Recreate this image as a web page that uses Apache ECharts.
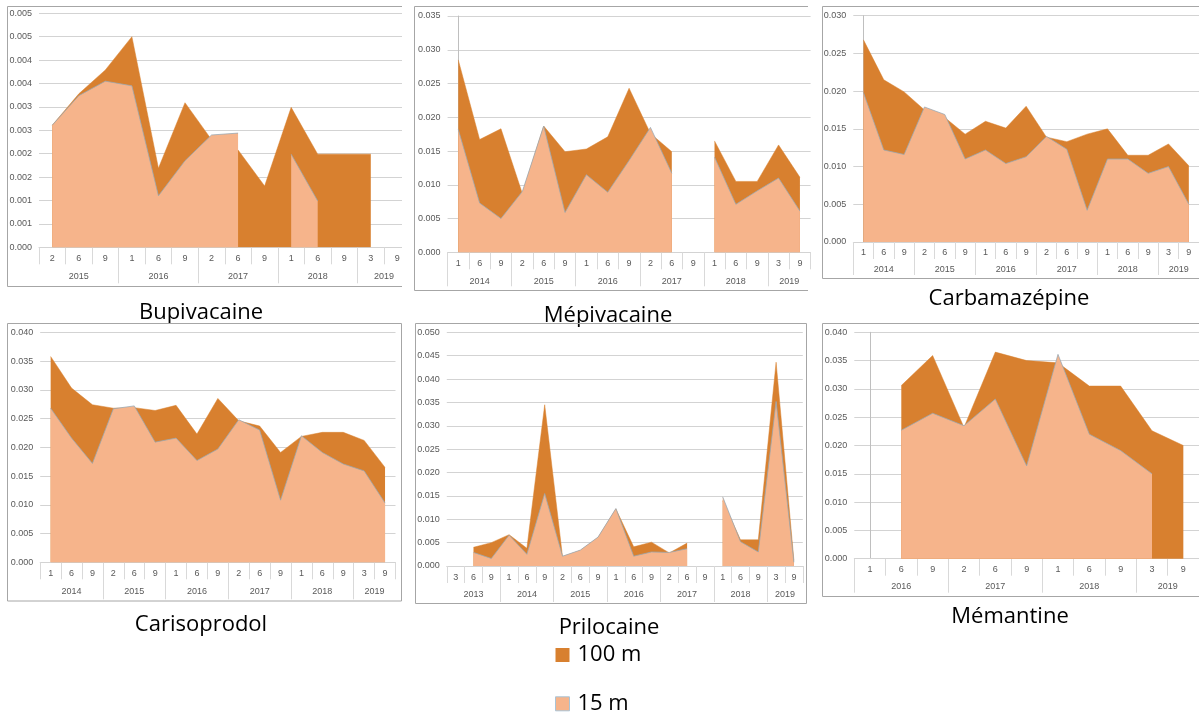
<!DOCTYPE html>
<html>
<head>
<meta charset="utf-8">
<script src="https://cdn.jsdelivr.net/npm/echarts@6/dist/echarts.min.js"></script>
<style>
html,body{margin:0;padding:0;background:#fff;}
#chart{width:1199px;height:715px;}
</style>
</head>
<body>
<div id="chart"></div>
<script>
// ---------- DATA ----------
const seriesNames = ['100 m', '15 m'];
const titles = ['Bupivacaine', 'Mépivacaine', 'Carbamazépine', 'Carisoprodol', 'Prilocaine', 'Mémantine'];

const bupivacaineMonths = ['2','6','9','1','6','9','2','6','9','1','6','9','3','9'];
const bupivacaineYears = ['2015','2016','2017','2018','2019'];
const bupivacaineYearSizes = [3,3,3,3,2];
const bupivacaine100 = [0.00261,0.00328,0.00379,0.00450,0.00169,0.00309,0.00230,0.00208,0.00131,0.00299,0.00199,0.00199,0.00199,null];
const bupivacaine15 = [0.00261,0.00324,0.00355,0.00345,0.00110,0.00185,0.00240,0.00244,null,0.00199,0.00099,null,null,null];

const mepivacaineMonths = ['1','6','9','2','6','9','1','6','9','2','6','9','1','6','9','3','9'];
const mepivacaineYears = ['2014','2015','2016','2017','2018','2019'];
const mepivacaineYearSizes = [3,3,3,3,3,2];
const mepivacaine100 = [0.0285,0.0167,0.0183,0.0087,0.0187,0.0149,0.0153,0.0171,0.0243,0.0176,0.0149,null,0.0165,0.0105,0.0105,0.0159,0.0111];
const mepivacaine15 = [0.0182,0.0073,0.0050,0.0090,0.0187,0.0059,0.0115,0.0089,0.0136,0.0185,0.0117,null,0.0141,0.0071,0.0091,0.0110,0.0061];

const carbamazepineMonths = ['1','6','9','2','6','9','1','6','9','2','6','9','1','6','9','3','9'];
const carbamazepineYears = ['2014','2015','2016','2017','2018','2019'];
const carbamazepineYearSizes = [3,3,3,3,3,2];
const carbamazepine100 = [0.0268,0.0215,0.0199,0.0175,0.0165,0.0143,0.0160,0.0151,0.0180,0.0139,0.0133,0.0143,0.0150,0.0115,0.0115,0.0130,0.0101];
const carbamazepine15 = [0.0198,0.0122,0.0116,0.0179,0.0169,0.0110,0.0122,0.0104,0.0113,0.0140,0.0123,0.0042,0.0110,0.0110,0.0091,0.0100,0.0050];

const carisoprodolMonths = ['1','6','9','2','6','9','1','6','9','2','6','9','1','6','9','3','9'];
const carisoprodolYears = ['2014','2015','2016','2017','2018','2019'];
const carisoprodolYearSizes = [3,3,3,3,3,2];
const carisoprodol100 = [0.0358,0.0303,0.0274,0.0268,0.0269,0.0264,0.0273,0.0223,0.0285,0.0246,0.0237,0.0191,0.0219,0.0226,0.0226,0.0212,0.0165];
const carisoprodol15 = [0.0268,0.0216,0.0172,0.0267,0.0272,0.0209,0.0216,0.0177,0.0197,0.0248,0.0230,0.0108,0.0220,0.0191,0.0171,0.0159,0.0103];

const prilocaineMonths = ['3','6','9','1','6','9','2','6','9','1','6','9','2','6','9','1','6','9','3','9'];
const prilocaineYears = ['2013','2014','2015','2016','2017','2018','2019'];
const prilocaineYearSizes = [3,3,3,3,3,3,2];
const prilocaine100 = [null,0.0040,0.0050,0.0067,0.0038,0.0345,0.0020,0.0033,0.0061,0.0122,0.0041,0.0051,0.0028,0.0049,null,0.0140,0.0056,0.0056,0.0436,0.0012];
const prilocaine15 = [null,0.0029,0.0016,0.0066,0.0025,0.0155,0.0021,0.0034,0.0062,0.0123,0.0021,0.0030,0.0029,0.0037,null,0.0148,0.0052,0.0030,0.0352,0.0008];

const memantineMonths = ['1','6','9','2','6','9','1','6','9','3','9'];
const memantineYears = ['2016','2017','2018','2019'];
const memantineYearSizes = [3,3,3,2];
const memantine100 = [null,0.0306,0.0359,0.0232,0.0365,0.0350,0.0346,0.0305,0.0305,0.0226,0.0200];
const memantine15 = [null,0.0227,0.0257,0.0235,0.0282,0.0164,0.0361,0.0220,0.0191,0.0150,null];

const yMax = [0.005, 0.035, 0.030, 0.040, 0.050, 0.040];
const yStep = [0.0005, 0.005, 0.005, 0.005, 0.005, 0.005];

// ---------- LAYOUT / STYLE ----------
const DARK = '#D8802F';
const LIGHT = '#F6B48B';
const LABEL = '#595959';
const GRIDC = '#d3d3d3';

const panels = [
  {months: bupivacaineMonths, years: bupivacaineYears, sizes: bupivacaineYearSizes, s100: bupivacaine100, s15: bupivacaine15,
   grid: {left: 39, top: 13.3, width: 371.6, height: 234}, yLine: false, mm: 7, ym: 24.5, longT: 36},
  {months: mepivacaineMonths, years: mepivacaineYears, sizes: mepivacaineYearSizes, s100: mepivacaine100, s15: mepivacaine15,
   grid: {left: 447.6, top: 16, width: 363, height: 236.3}, yLine: true, mm: 7, ym: 24.5, longT: 34},
  {months: carbamazepineMonths, years: carbamazepineYears, sizes: carbamazepineYearSizes, s100: carbamazepine100, s15: carbamazepine15,
   grid: {left: 853.3, top: 15.7, width: 352.8, height: 226.3}, yLine: true, mm: 6.5, ym: 23.5, longT: 33},
  {months: carisoprodolMonths, years: carisoprodolYears, sizes: carisoprodolYearSizes, s100: carisoprodol100, s15: carisoprodol15,
   grid: {left: 40.2, top: 332.3, width: 355.3, height: 230}, yLine: false, mm: 7, ym: 24.5, longT: 37},
  {months: prilocaineMonths, years: prilocaineYears, sizes: prilocaineYearSizes, s100: prilocaine100, s15: prilocaine15,
   grid: {left: 446.8, top: 332.3, width: 356, height: 233.7}, yLine: false, mm: 7, ym: 24.5, longT: 36},
  {months: memantineMonths, years: memantineYears, sizes: memantineYearSizes, s100: memantine100, s15: memantine15,
   grid: {left: 854.3, top: 332.3, width: 352, height: 226.4}, yLine: true, mm: 6.5, ym: 23.5, longT: 34}
];

const titlePos = [
  {x: 196, top: 297}, {x: 603, top: 300}, {x: 1004, top: 283},
  {x: 196, top: 609}, {x: 604, top: 612}, {x: 1005, top: 601}
];

function fmtY(v) {
  return (Math.round(v * 1000 + 1e-7) / 1000).toFixed(3);
}

const option = {
  animation: false,
  backgroundColor: '#fff',
  title: [],
  grid: [],
  xAxis: [],
  yAxis: [],
  series: [],
  legend: {
    orient: 'vertical',
    left: 555,
    top: 644,
    height: 71,
    padding: 0,
    itemWidth: 14,
    itemHeight: 14,
    itemGap: 26.8,
    icon: 'rect',
    textStyle: {fontFamily: 'Open Sans', fontSize: 22, color: '#000', lineHeight: 22, padding: [0, 0, 0, 3]},
    data: [
      {name: seriesNames[0], itemStyle: {color: DARK, borderWidth: 0}},
      {name: seriesNames[1], itemStyle: {color: LIGHT, borderColor: '#a9c4d6', borderWidth: 1}}
    ]
  },
  graphic: []
};

panels.forEach((p, i) => {
  const n = p.months.length;
  option.grid.push(Object.assign({containLabel: false}, p.grid));
  const centers = [], bounds = [];
  let s = 0;
  p.sizes.forEach(k => { centers.push(s + (k - 1) / 2); if (s > 0 || p.yLine) bounds.push(s - 0.5); s += k; });
  const yearMap = {};
  centers.forEach((c, j) => { yearMap[c.toFixed(1)] = p.years[j]; });

  option.xAxis.push({
    type: 'category', gridIndex: i, data: p.months, boundaryGap: true,
    axisLine: {show: true, lineStyle: {color: GRIDC}},
    axisTick: {show: true, interval: 0, length: 17, lineStyle: {color: '#d9d9d9'}},
    axisLabel: {interval: 0, margin: p.mm, fontSize: 9, color: LABEL, fontFamily: 'Liberation Sans'},
    splitLine: {show: false}
  });
  option.xAxis.push({
    type: 'value', gridIndex: i, position: 'bottom', min: -0.5, max: n - 0.5,
    axisLine: {show: false}, splitLine: {show: false},
    axisTick: {show: true, customValues: bounds, length: p.longT, lineStyle: {color: '#d9d9d9'}},
    axisLabel: {customValues: centers, margin: p.ym, fontSize: 9, color: LABEL, fontFamily: 'Liberation Sans',
      formatter: v => yearMap[Number(v).toFixed(1)] || ''}
  });
  option.yAxis.push({
    type: 'value', gridIndex: i, min: 0, max: yMax[i], interval: yStep[i],
    axisLine: {show: p.yLine, lineStyle: {color: '#bfbfbf'}},
    axisTick: {show: false},
    splitLine: {show: true, lineStyle: {color: GRIDC, width: 1}},
    axisLabel: {formatter: fmtY, fontSize: 9, color: LABEL, margin: 7, fontFamily: 'Liberation Sans'}
  });
  option.series.push({
    name: seriesNames[0], type: 'line', xAxisIndex: 2 * i, yAxisIndex: i, data: p.s100,
    showSymbol: false, symbol: 'none', connectNulls: false, z: 2,
    itemStyle: {color: DARK},
    lineStyle: {color: DARK, width: 0.5},
    areaStyle: {color: DARK, opacity: 1}
  });
  option.series.push({
    name: seriesNames[1], type: 'line', xAxisIndex: 2 * i, yAxisIndex: i, data: p.s15,
    showSymbol: false, symbol: 'none', connectNulls: false, z: 3,
    itemStyle: {color: LIGHT},
    lineStyle: {color: 'rgba(150,168,182,0.75)', width: 1},
    areaStyle: {color: LIGHT, opacity: 1}
  });
  option.title.push({
    text: titles[i], left: titlePos[i].x, top: titlePos[i].top, textAlign: 'center',
    textStyle: {fontFamily: 'Open Sans', fontSize: 22, fontWeight: 'normal', color: '#000'}
  });
});

const frameStyle = {stroke: '#a6a6a6', lineWidth: 1, fill: null};
option.graphic = [
  {type: 'rect', z: 50, silent: true, shape: {x: 402, y: 0, width: 11, height: 295}, style: {fill: '#fff'}},
  {type: 'polyline', z: 60, silent: true, shape: {points: [[402, 6.5], [7.5, 6.5], [7.5, 286.5], [402, 286.5]]}, style: frameStyle},
  {type: 'polyline', z: 60, silent: true, shape: {points: [[808, 6.5], [414.5, 6.5], [414.5, 290.5], [808, 290.5]]}, style: frameStyle},
  {type: 'polyline', z: 60, silent: true, shape: {points: [[1199, 6.5], [822.5, 6.5], [822.5, 278.5], [1199, 278.5]]}, style: frameStyle},
  {type: 'rect', z: 60, silent: true, shape: {x: 7.5, y: 323.5, width: 394, height: 277.5}, style: frameStyle},
  {type: 'rect', z: 60, silent: true, shape: {x: 415.5, y: 323.5, width: 391, height: 280}, style: frameStyle},
  {type: 'polyline', z: 60, silent: true, shape: {points: [[1199, 323.5], [822.5, 323.5], [822.5, 596.5], [1199, 596.5]]}, style: frameStyle}
];

const chart = echarts.init(document.getElementById('chart'), null, {renderer: 'canvas'});
chart.setOption(option);
</script>
</body>
</html>
